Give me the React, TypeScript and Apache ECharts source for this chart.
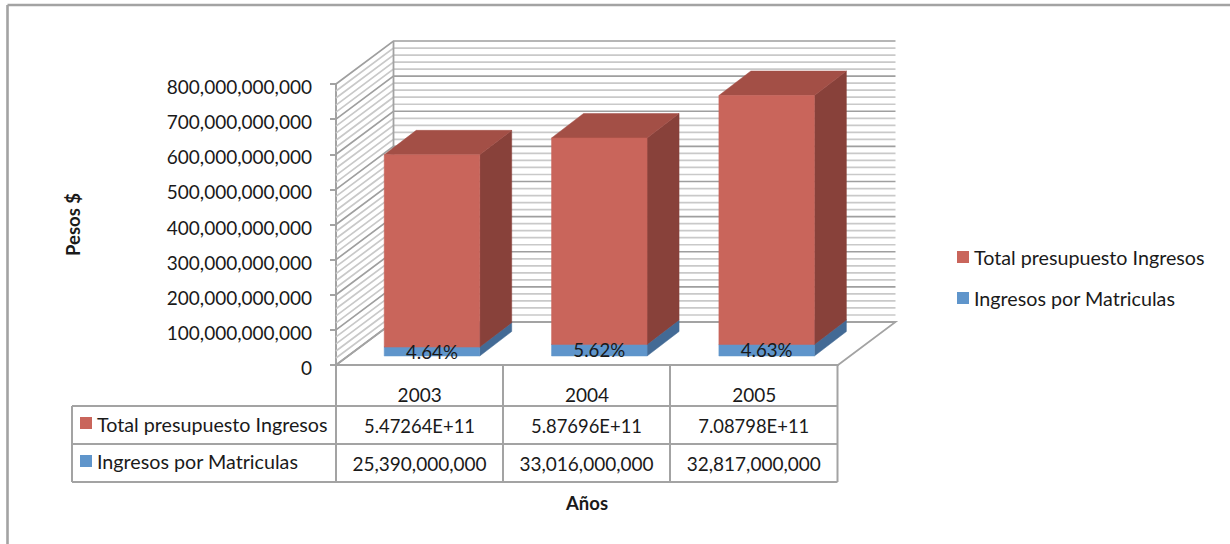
import React, { useEffect, useRef } from "react";
import * as echarts from "echarts";

const categories = ["2003", "2004", "2005"];
const totalName = "Total presupuesto Ingresos";
const matriculaName = "Ingresos por Matriculas";
const totalValues = [547264000000, 587696000000, 708798000000];
const matriculaValues = [25390000000, 33016000000, 32817000000];
const pctLabels = ["4.64%", "5.62%", "4.63%"];
const yMax = 800000000000;
const yMajor = 100000000000;
const yMinor = 20000000000;

const FONT = "Lato";
const TEXT = "#1a1a1a";
const LINE = "#a3a3a3";
const wallDx = 57.5;
const wallDy = -43;
const barW = 95.5;
const barShiftX = 12.3;
const barShiftY = -9;
const barDx = 32;
const barDy = -24.5;

function wallItem(params: any, api: any) {
  const v = api.value(0);
  const [, y] = api.coord([0, v]);
  const left = params.coordSys.x;
  const right = left + params.coordSys.width;
  const major = v % yMajor === 0;
  return {
    type: "polyline",
    silent: true,
    shape: {
      points: [
        [left, y],
        [left + wallDx, y + wallDy],
        [right + wallDx, y + wallDy],
      ],
    },
    style: { fill: "none", stroke: major ? "#9f9f9f" : "#c9c9c9", lineWidth: 1.7 },
  };
}

function wallFrame(params: any, api: any) {
  const cs = params.coordSys;
  const top = cs.y;
  const bottom = cs.y + cs.height;
  const left = cs.x;
  const right = cs.x + cs.width;
  const line = (pts: number[][]) => ({
    type: "polyline",
    silent: true,
    shape: { points: pts },
    style: { fill: "none", stroke: LINE, lineWidth: 1.8 },
  });
  return {
    type: "group",
    children: [
      line([[left + wallDx, top + wallDy], [left + wallDx, bottom + wallDy]]),
      line([[left, bottom], [left + wallDx, bottom + wallDy], [right + wallDx, bottom + wallDy], [right, bottom]]),
    ],
  };
}

function barItem(colors: { front: string; top: string; side: string }) {
  return (params: any, api: any) => {
    const idx = api.value(0);
    const [cx, y0Raw] = api.coord([idx, api.value(1)]);
    const [, y1Raw] = api.coord([idx, api.value(2)]);
    const xL = cx + barShiftX - barW / 2;
    const xR = xL + barW;
    const y0 = y0Raw + barShiftY;
    const y1 = y1Raw + barShiftY;
    const poly = (pts: number[][], fill: string) => ({
      type: "polygon",
      silent: true,
      shape: { points: pts },
      style: { fill, stroke: fill, lineWidth: 0.5 },
    });
    return {
      type: "group",
      children: [
        poly([[xR, y0], [xR + barDx, y0 + barDy], [xR + barDx, y1 + barDy], [xR, y1]], colors.side),
        poly([[xL, y1], [xR, y1], [xR + barDx, y1 + barDy], [xL + barDx, y1 + barDy]], colors.top),
        poly([[xL, y0], [xR, y0], [xR, y1], [xL, y1]], colors.front),
      ],
    };
  };
}

function tableGraphics() {
  const colX = [336, 503, 670, 837.5];
  const yTop = 365;
  const yRow1 = 406;
  const yRow2 = 444;
  const yBot = 482;
  const left = 72;
  const els: any[] = [];
  const seg = (x1: number, y1: number, x2: number, y2: number, lineWidth = 2) =>
    els.push({
      type: "line",
      silent: true,
      shape: { x1, y1, x2, y2 },
      style: { stroke: LINE, lineWidth },
    });
  seg(7.5, 5, 1230, 5, 2.6);
  seg(7.5, 5, 7.5, 544, 2.6);
  colX.forEach((x) => seg(x, yTop, x, yBot));
  seg(left, yRow1, colX[3], yRow1);
  seg(left, yRow2, colX[3], yRow2);
  seg(left, yBot, colX[3], yBot);
  seg(left, yRow1, left, yBot);
  const txt = (text: string, x: number, y: number, align: string, fontSize: number) =>
    els.push({
      type: "text",
      silent: true,
      style: { text, x, y, align, verticalAlign: "middle", fontFamily: FONT, fontSize, fill: TEXT },
    });
  const key = (y: number, fill: string) =>
    els.push({ type: "rect", silent: true, shape: { x: 80, y, width: 12, height: 12 }, style: { fill } });
  key(417, "#C9655B");
  key(455, "#5F95CB");
  txt(totalName, 97, 424, "left", 19.7);
  txt(matriculaName, 97, 461, "left", 19.7);
  categories.forEach((_, i) => {
    const cx = (colX[i] + colX[i + 1]) / 2;
    txt(totalValues[i].toExponential(5).toUpperCase(), cx, 426, "center", 18.4);
    txt(matriculaValues[i].toLocaleString("en-US"), cx, 463, "center", 19);
  });
  return els;
}

export default function App() {
  const ref = useRef<HTMLDivElement>(null);
  useEffect(() => {
    document.body.style.margin = "0";
    const chart = echarts.init(ref.current!, undefined, { renderer: "svg" });
    const levels: number[][] = [];
    for (let v = 0; v <= yMax; v += yMinor) levels.push([v]);
    const red = { front: "#C9655B", top: "#A34F46", side: "#88413A" };
    const blue = { front: "#5F95CB", top: "#4E7BA8", side: "#436A95" };
    chart.setOption({
      animation: false,
      backgroundColor: "#ffffff",
      textStyle: { fontFamily: FONT },
      grid: { left: 336, top: 84, width: 502, height: 281, containLabel: false },
      legend: {
        orient: "vertical",
        left: 952,
        top: 242,
        itemWidth: 12,
        itemHeight: 12,
        itemGap: 21,
        icon: "rect",
        data: [totalName, matriculaName],
        textStyle: { fontFamily: FONT, fontSize: 19.7, color: TEXT },
      },
      xAxis: {
        type: "category",
        data: categories,
        name: "Años",
        nameLocation: "middle",
        nameGap: 128,
        nameTextStyle: { fontFamily: FONT, fontSize: 18.5, fontWeight: "bold", color: TEXT },
        axisLine: { show: true, lineStyle: { color: LINE, width: 2 } },
        axisTick: { show: false },
        axisLabel: { margin: 20, fontFamily: FONT, fontSize: 19, color: TEXT },
        splitLine: { show: false },
      },
      yAxis: {
        type: "value",
        min: 0,
        max: yMax,
        interval: yMajor,
        name: "Pesos $",
        nameLocation: "middle",
        nameGap: 254,
        nameTextStyle: { fontFamily: FONT, fontSize: 18.5, fontWeight: "bold", color: TEXT },
        axisLine: { show: true, lineStyle: { color: LINE, width: 2 } },
        axisTick: { show: true, length: 6, lineStyle: { color: LINE, width: 2 } },
        axisLabel: {
          margin: 24,
          fontFamily: FONT,
          fontSize: 19,
          color: TEXT,
          verticalAlign: "top",
          lineHeight: 5,
          formatter: (v: number) => v.toLocaleString("en-US"),
        },
        splitLine: { show: false },
      },
      series: [
        { type: "custom", name: "wall", data: levels, renderItem: wallItem, encode: { y: 0 }, silent: true, z: 1 },
        { type: "custom", name: "wallFrame", data: [[0]], renderItem: wallFrame, encode: { y: 0 }, silent: true, z: 2 },
        {
          type: "custom",
          name: matriculaName,
          itemStyle: { color: blue.front },
          data: categories.map((_, i) => [i, 0, matriculaValues[i]]),
          encode: { x: 0, y: [1, 2] },
          renderItem: barItem(blue),
          silent: true,
          z: 3,
        },
        {
          type: "custom",
          name: totalName,
          itemStyle: { color: red.front },
          data: categories.map((_, i) => [i, matriculaValues[i], matriculaValues[i] + totalValues[i]]),
          encode: { x: 0, y: [1, 2] },
          renderItem: barItem(red),
          silent: true,
          z: 4,
        },
        {
          type: "custom",
          name: "pct",
          data: categories.map((_, i) => [i, 0, matriculaValues[i]]),
          encode: { x: 0, y: [1, 2] },
          renderItem: (params: any, api: any) => {
            const idx = api.value(0);
            const [cx, y0] = api.coord([idx, api.value(1)]);
            const [, y1] = api.coord([idx, api.value(2)]);
            return {
              type: "text",
              silent: true,
              style: {
                text: pctLabels[idx],
                x: cx + barShiftX,
                y: (y0 + y1) / 2 + barShiftY,
                align: "center",
                verticalAlign: "middle",
                fontFamily: FONT,
                fontSize: 18.7,
                fill: TEXT,
              },
            };
          },
          silent: true,
          z: 5,
        },
      ],
      graphic: tableGraphics(),
    });
    return () => chart.dispose();
  }, []);
  return <div ref={ref} style={{ position: "absolute", left: 0, top: 0, width: 1230, height: 544 }} />;
}
